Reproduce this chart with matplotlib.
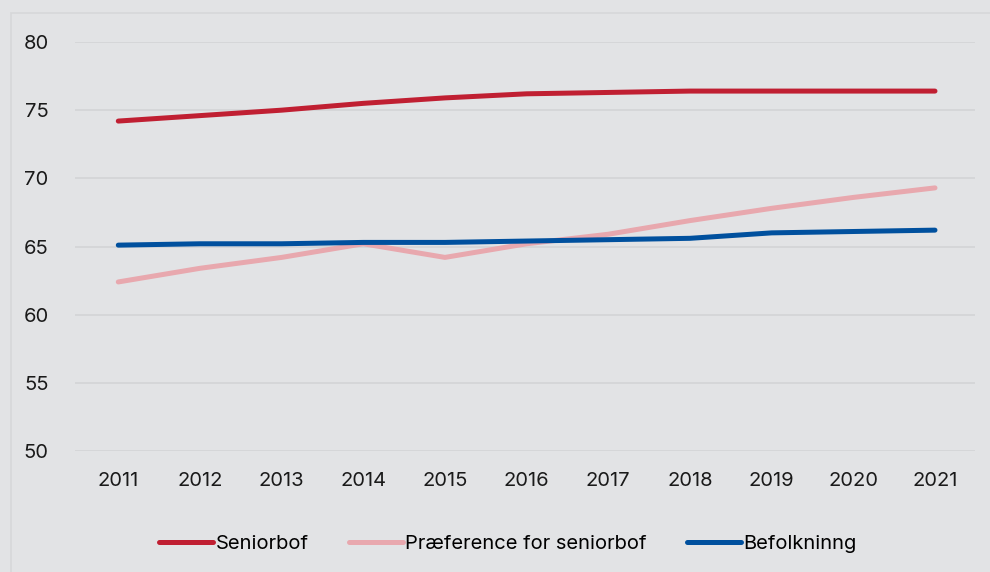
import matplotlib
matplotlib.use('Agg')
import matplotlib.pyplot as plt
from matplotlib.patches import Rectangle

plt.rcParams['font.family'] = ['Inter', 'DejaVu Sans']

years = [2011, 2012, 2013, 2014, 2015, 2016, 2017, 2018, 2019, 2020, 2021]
seniorbof = [74.2, 74.6, 75.0, 75.5, 75.9, 76.2, 76.3, 76.4, 76.4, 76.4, 76.4]
praeference = [62.4, 63.4, 64.2, 65.2, 64.2, 65.2, 65.9, 66.9, 67.8, 68.6, 69.3]
befolkning = [65.1, 65.2, 65.2, 65.3, 65.3, 65.4, 65.5, 65.6, 66.0, 66.1, 66.2]
labels = ['Seniorbof', 'Præference for seniorbof', 'Befolkninng']
colors = ['#C01F32', '#E8A8AE', '#00509E']

bg = '#E2E3E5'
fig = plt.figure(figsize=(9.9, 5.72), dpi=100, facecolor=bg)
# outer frame
fig.patches.append(Rectangle((11/990, -0.05), 1.0, 1 - 13/572 + 0.05,
                             transform=fig.transFigure, fill=False,
                             edgecolor='#D6D7D9', linewidth=1.2))

ax = fig.add_axes([75/990, 1 - 451/572, 900/990, 409/572])
ax.set_facecolor(bg)

for vals, lab, c in zip([seniorbof, praeference, befolkning], labels, colors):
    ax.plot(years, vals, color=c, linewidth=3.6, label=lab,
            solid_capstyle='round', solid_joinstyle='round')

ax.set_xlim(2010.47, 2021.49)
ax.set_ylim(50, 80)
ax.set_yticks(range(50, 81, 5))
ax.set_xticks(years)
ax.grid(axis='y', color='#D4D5D7', linewidth=1.3)
ax.set_axisbelow(True)
for s in ax.spines.values():
    s.set_visible(False)
ax.tick_params(length=0, labelsize=14.5, colors='#1A1A1A')
ax.tick_params(axis='y', pad=19)
ax.tick_params(axis='x', pad=15)

fig.legend(loc='center', bbox_to_anchor=(0.513, 1 - 544/572), ncol=3,
           frameon=False, fontsize=14.5, handlelength=2.7, handletextpad=0.1,
           columnspacing=2.0)

fig.savefig('out.png', dpi=100, facecolor=bg)
